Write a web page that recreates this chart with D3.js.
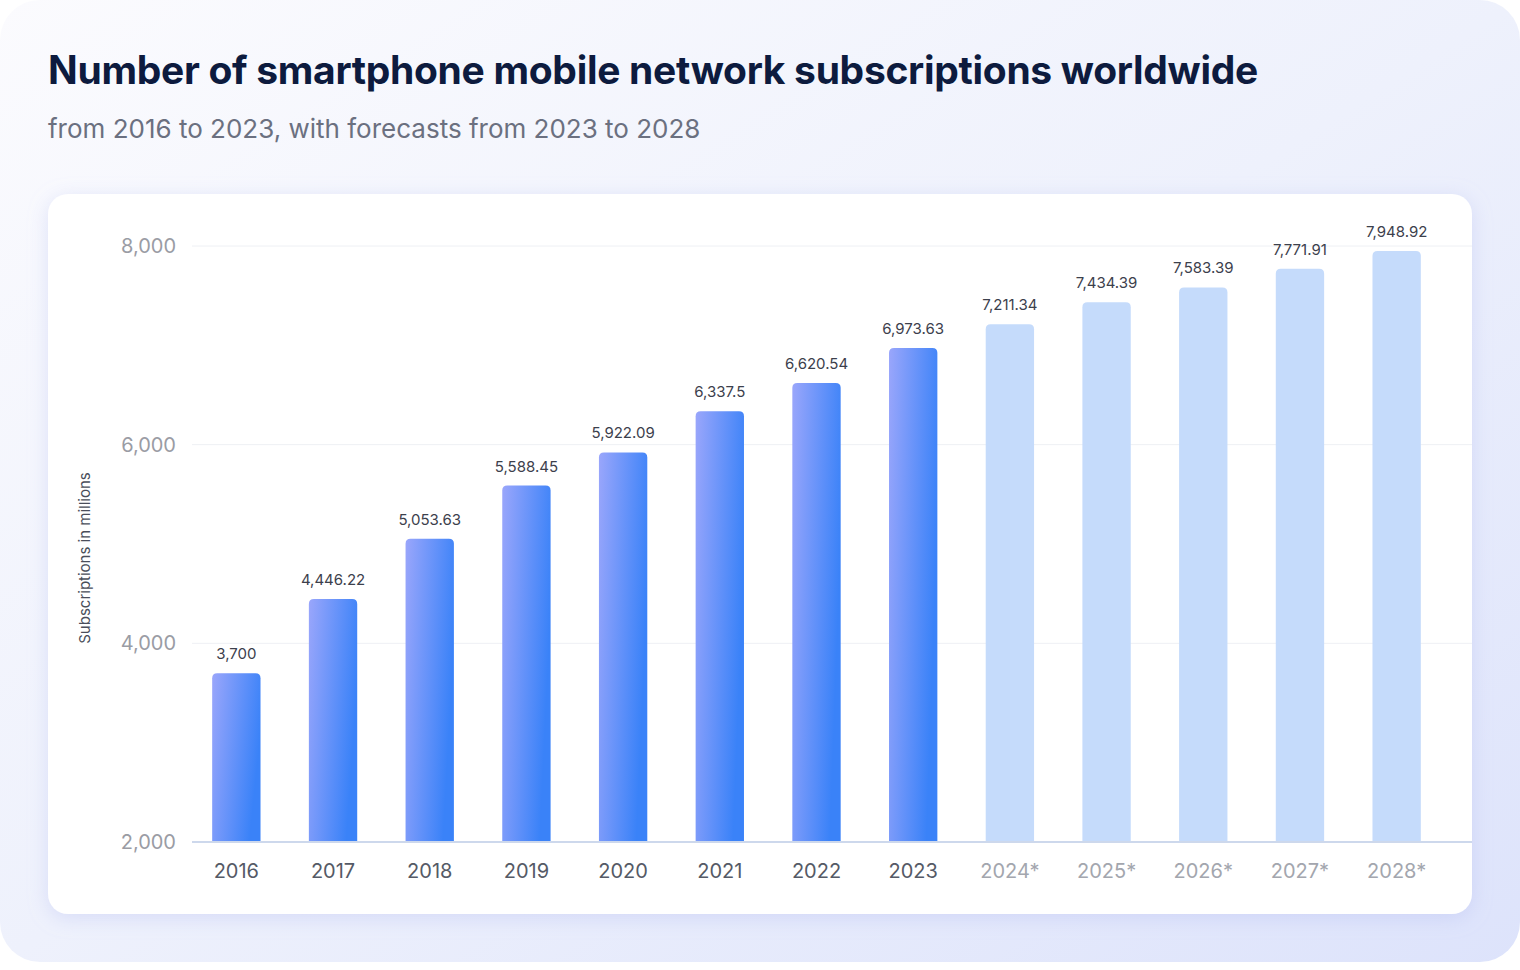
<!DOCTYPE html>
<html><head><meta charset="utf-8">
<script src="https://cdn.jsdelivr.net/npm/d3@7"></script>
<style>body{margin:0;background:#fff;}svg{display:block;font-family:Inter,"Noto Sans",sans-serif;}</style>
</head><body><svg id="c" width="1520" height="970"></svg>
<script>
const categories=["2016","2017","2018","2019","2020","2021","2022","2023","2024*","2025*","2026*","2027*","2028*"];
const values=[3700,4446.22,5053.63,5588.45,5922.09,6337.5,6620.54,6973.63,7211.34,7434.39,7583.39,7771.91,7948.92];
const labels=["3,700","4,446.22","5,053.63","5,588.45","5,922.09","6,337.5","6,620.54","6,973.63","7,211.34","7,434.39","7,583.39","7,771.91","7,948.92"];
const forecast=[0,0,0,0,0,0,0,0,1,1,1,1,1];
const yTicks=[2000,4000,6000,8000];

const svg=d3.select("#c");
const defs=svg.append("defs");
const bg=defs.append("linearGradient").attr("id","bg").attr("x1",0).attr("y1",0).attr("x2",1).attr("y2",1);
bg.append("stop").attr("offset",0).attr("stop-color","#fbfbfe");
bg.append("stop").attr("offset",0.5).attr("stop-color","#eef1fc");
bg.append("stop").attr("offset",1).attr("stop-color","#dde3fb");
const bar=defs.append("linearGradient").attr("id","bar").attr("x1",0).attr("y1",0).attr("x2",1).attr("y2",0.35);
bar.append("stop").attr("offset",0).attr("stop-color","#9aa6fb");
bar.append("stop").attr("offset",1).attr("stop-color","#3a82f8");
const sh=defs.append("filter").attr("id","sh").attr("x","-10%").attr("y","-10%").attr("width","120%").attr("height","130%");
sh.append("feDropShadow").attr("dx",0).attr("dy",4).attr("stdDeviation",10).attr("flood-color","#aab4ee").attr("flood-opacity",0.35);

svg.append("rect").attr("width",1520).attr("height",962).attr("rx",40).attr("fill","url(#bg)");
svg.append("text").attr("x",48).attr("y",84).attr("font-size",39).attr("font-weight",700).attr("fill","#0d1b3e").attr("letter-spacing",-0.3).text("Number of smartphone mobile network subscriptions worldwide");
svg.append("text").attr("x",48).attr("y",138).attr("font-size",26).attr("fill","#6b7080").text("from 2016 to 2023, with forecasts from 2023 to 2028");
svg.append("rect").attr("x",48).attr("y",194).attr("width",1424).attr("height",720).attr("rx",20).attr("fill","#fff").attr("filter","url(#sh)");

const x=d3.scaleBand().domain(categories).range([188,1445]).paddingInner(0.5).paddingOuter(0.25);
const y=d3.scaleLinear().domain([2000,8000]).range([842,246]);

const g=svg.append("g");
g.selectAll(".grid").data(yTicks).join("line").attr("x1",192).attr("x2",1472).attr("y1",d=>y(d)).attr("y2",d=>y(d)).attr("stroke",(d,i)=>i?"#eef0f4":"#cdd8ec").attr("stroke-width",(d,i)=>i?1:2);
g.selectAll(".yt").data(yTicks).join("text").attr("x",176).attr("y",d=>y(d)+7).attr("text-anchor","end").attr("font-size",20).attr("fill","#9a9ca4").text(d3.format(","));
svg.append("text").attr("transform","translate(90,558) rotate(-90)").attr("text-anchor","middle").attr("font-size",15).attr("fill","#4a4e5a").text("Subscriptions in millions");

const r=5;
g.selectAll(".bar").data(values).join("path").attr("fill",(d,i)=>forecast[i]?"#c5dbfb":"url(#bar)")
 .attr("d",(d,i)=>{const x0=x(categories[i]),w=x.bandwidth(),y0=y(d),y1=y(2000)-1;
  return `M${x0},${y1}V${y0+r}Q${x0},${y0} ${x0+r},${y0}H${x0+w-r}Q${x0+w},${y0} ${x0+w},${y0+r}V${y1}Z`;});
g.selectAll(".vl").data(values).join("text").attr("x",(d,i)=>x(categories[i])+x.bandwidth()/2).attr("y",d=>y(d)-14).attr("text-anchor","middle").attr("font-size",15).attr("fill","#3c404c").text((d,i)=>labels[i]);
g.selectAll(".xl").data(categories).join("text").attr("x",d=>x(d)+x.bandwidth()/2).attr("y",878).attr("text-anchor","middle").attr("font-size",20).attr("fill",(d,i)=>forecast[i]?"#a3a6ae":"#555a66").text(d=>d);
</script></body></html>
